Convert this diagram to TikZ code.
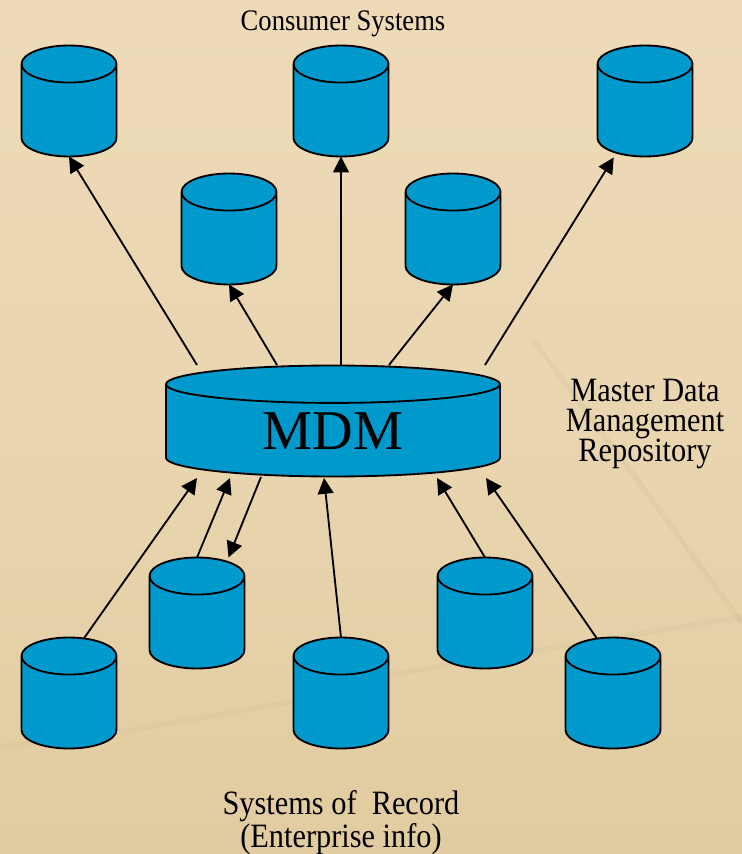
\documentclass[tikz,border=0pt]{standalone}
\usepackage{fontspec}
\setmainfont{Liberation Serif}
\newfontfamily\labelfont[FakeStretch=0.89]{Liberation Serif}
\usetikzlibrary{shapes.geometric,arrows.meta}
\definecolor{dbblue}{HTML}{0099CC}
\definecolor{papertop}{HTML}{EEDAB7}
\definecolor{papermid}{HTML}{E9D6B0}
\definecolor{paperlow}{HTML}{E1CBA0}
\definecolor{crease}{HTML}{C9B58C}
\tikzset{
        >={Triangle[length=9pt,width=9pt]},
        dbcyl/.style={cylinder,shape border rotate=90,anchor=shape center,draw=black,fill=dbblue,line width=1.05pt,aspect=0.39,
                text width=1.9cm,minimum width=1.9cm,minimum height=2.22cm,inner sep=0pt,outer sep=0pt},
        mdmcyl/.style={dbcyl,aspect=0.112,text width=6.68cm,minimum width=6.68cm,minimum height=2.22cm,
                align=center,font=\fontsize{32}{32}\selectfont},
        toplabel/.style={font=\labelfont\fontsize{17}{17}\selectfont,inner sep=0pt},
        sidelabel/.style={font=\labelfont\fontsize{19.4}{17.3}\selectfont,align=center,inner sep=0pt},
        link/.style={line width=1.05pt,black}
}
\begin{document}
\begin{tikzpicture}[x=0.02cm,y=-0.02cm]

        \path [use as bounding box,top color=papertop,bottom color=paperlow,middle color=papermid] (0,0) rectangle (742,854);
        \draw [crease,opacity=0.2,line width=3pt] (533,340) -- (630,470) -- (742,623);
        \draw [crease,opacity=0.15,line width=3pt] (0,747) -- (133,730) -- (300,700) -- (400,673) -- (742,617);

        \node [toplabel,anchor=base] (consumer) at (343,31) {Consumer Systems};
        \node [sidelabel,anchor=center] (repo) at (645,424) {Master Data\\Management\\Repository};
        \node [sidelabel,anchor=center] (record) at (341,822.5) {Systems of\ \ Record\\(Enterprise info)};

        \node [mdmcyl] (mdm) at (333,421) {MDM};

        \node [dbcyl] (c1) at (69,101) {};
        \node [dbcyl] (c2) at (229,229) {};
        \node [dbcyl] (c3) at (341,101) {};
        \node [dbcyl] (c4) at (453,229) {};
        \node [dbcyl] (c5) at (645,101) {};

        \node [dbcyl] (s1) at (69,693) {};
        \node [dbcyl] (s2) at (197,613) {};
        \node [dbcyl] (s3) at (341,693) {};
        \node [dbcyl] (s4) at (485,613) {};
        \node [dbcyl] (s5) at (613,693) {};

        \coordinate (mt1) at (197,365);
        \coordinate (mt2) at (277,365);
        \coordinate (mt3) at (341,365);
        \coordinate (mt4) at (389,365);
        \coordinate (mt5) at (485,365);
        \coordinate (mb1) at (197,478);
        \coordinate (mb2) at (230,478);
        \coordinate (mb3) at (261,477);
        \coordinate (mb4) at (324,478);
        \coordinate (mb5) at (437,478);
        \coordinate (mb6) at (486,478);

        \path [->,link] (mt1) edge (c1.south);
        \path [->,link] (mt2) edge (c2.south);
        \path [->,link] (mt3) edge (c3.south);
        \path [->,link] (mt4) edge (c4.south);
        \path [->,link,shorten >=0.11cm] (mt5) edge (c5.236);

        \path [->,link] (s1.77) edge (mb1);
        \path [->,link] (s2.north) edge (mb2);
        \path [->,link,shorten >=0.09cm] (mb3) edge (s2.64);
        \path [->,link] (s3.north) edge (mb4);
        \path [->,link] (s4.north) edge (mb5);
        \path [->,link] (s5.104) edge (mb6);
\end{tikzpicture}
\end{document}
